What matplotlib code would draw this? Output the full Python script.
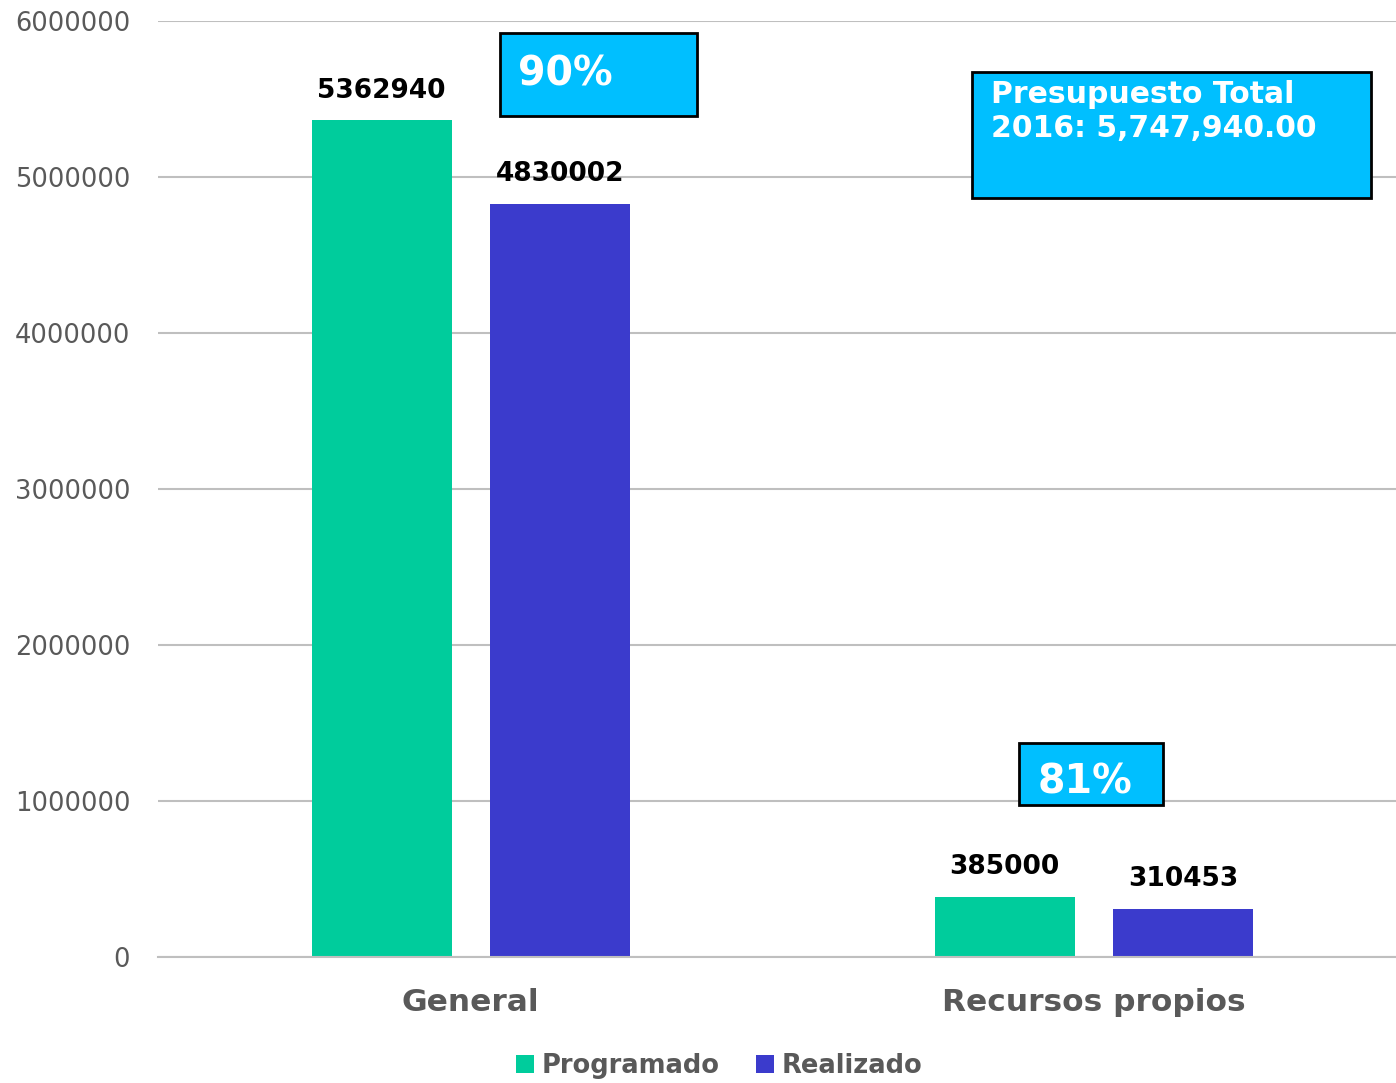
import matplotlib
matplotlib.use("Agg")
import matplotlib.pyplot as plt
from matplotlib.patches import Rectangle
import numpy as np

categories = ["General", "Recursos propios"]
programado = [5362940, 385000]
realizado = [4830002, 310453]
percents = ["90%", "81%"]
total_note = "Presupuesto Total\n2016: 5,747,940.00"

GREEN = "#00CC9C"
BLUE = "#3B3BCC"
CYAN = "#00BFFF"
GRAY = "#595959"

fig = plt.figure(figsize=(13.96, 10.83), dpi=100)
ax = fig.add_axes([158 / 1396, 1 - 957 / 1083, 1 - 158 / 1396, (957 - 21) / 1083])

x = np.arange(len(categories))
w = 0.225
off = 0.143
b1 = ax.bar(x - off, programado, w, color=GREEN, label="Programado", zorder=2)
b2 = ax.bar(x + off, realizado, w, color=BLUE, label="Realizado", zorder=2)

for bars, vals in ((b1, programado), (b2, realizado)):
    for r, v in zip(bars, vals):
        ax.annotate(str(v), (r.get_x() + r.get_width() / 2, v),
                    xytext=(0, 12), textcoords="offset points",
                    ha="center", va="bottom", fontsize=19, fontweight="bold",
                    color="black")

ax.set_xlim(-0.502, 1.485)
ax.set_ylim(0, 6000000)
ax.set_yticks(np.arange(0, 6000001, 1000000))
ax.set_yticklabels([str(v) for v in range(0, 6000001, 1000000)])
ax.yaxis.grid(True, color="#BFBFBF", lw=1.5, zorder=0)
ax.set_axisbelow(True)
for s in ("top", "right", "left"):
    ax.spines[s].set_visible(False)
ax.spines["bottom"].set_color("#BFBFBF")
ax.spines["bottom"].set_linewidth(1.5)
ax.tick_params(axis="y", length=0, pad=20, labelsize=18.5, labelcolor=GRAY)
ax.tick_params(axis="x", length=0, pad=22, labelsize=22.5, labelcolor=GRAY)
ax.set_xticks(x)
ax.set_xticklabels(categories, fontweight="bold")

# callout boxes (figure pixel coordinates -> fractions)
def box(x0, y0, x1, y1, text, fs, tx, ty, ls=1.0):
    fig.patches.append(Rectangle((x0 / 1396, 1 - y1 / 1083),
                                 (x1 - x0) / 1396, (y1 - y0) / 1083,
                                 transform=fig.transFigure, facecolor=CYAN,
                                 edgecolor="black", lw=2, zorder=5))
    fig.text(tx / 1396, 1 - ty / 1083, text, color="white", fontsize=fs,
             fontweight="bold", family="DejaVu Sans", ha="left", va="top",
             linespacing=ls, zorder=6)

box(500, 33, 697, 116, percents[0], 28.5, 518, 55)
box(1019, 743, 1163, 805, percents[1], 28.5, 1038, 763)
box(972, 72, 1371, 198, total_note, 21.5, 991, 80, ls=1.2)

leg = fig.legend(loc="lower center", bbox_to_anchor=(0.515, -0.018), ncol=2,
                 frameon=False, fontsize=18.5, handlelength=0.7, handleheight=0.7,
                 handletextpad=0.3, columnspacing=1.4)
for t in leg.get_texts():
    t.set_color(GRAY)
    t.set_fontweight("bold")

fig.savefig("out.png", dpi=100)
